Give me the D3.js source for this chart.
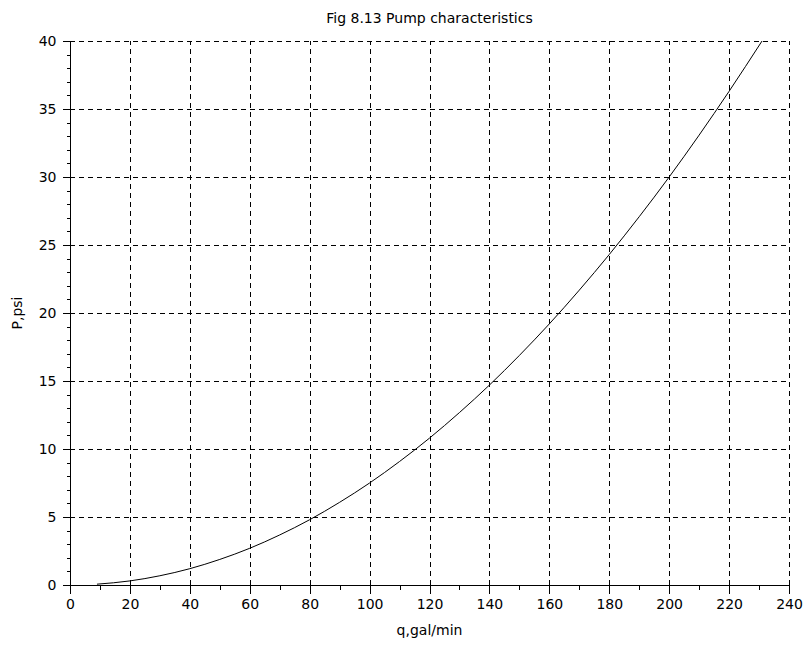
<!DOCTYPE html>
<html>
<head>
<meta charset="utf-8">
<script src="https://cdn.jsdelivr.net/npm/d3@7"></script>
<style>
  html, body { margin: 0; padding: 0; background: #fff; }
  svg { display: block; }
  text { font-family: "DejaVu Sans", sans-serif; fill: #000; }
</style>
</head>
<body>
<svg id="chart" width="809" height="645"></svg>
<script>
// Flow rate (gal/min) and pump pressure (psi)
const flow     = [9, 20, 30, 40, 50, 60, 70, 80, 90, 100, 110, 120, 130, 140, 150, 160, 170, 180, 190, 200, 210, 220, 231];
const pressure = [0.06, 0.3, 0.68, 1.2, 1.88, 2.7, 3.68, 4.8, 6.08, 7.5, 9.08, 10.8, 12.68, 14.7, 16.88, 19.2, 21.68, 24.3, 27.08, 30, 33.08, 36.3, 40.0];

const xTicks = [0, 20, 40, 60, 80, 100, 120, 140, 160, 180, 200, 220, 240];
const yTicks = [0, 5, 10, 15, 20, 25, 30, 35, 40];
const xMinor = [10, 30, 50, 70, 90, 110, 130, 150, 170, 190, 210, 230];
const yMinor = d3.range(0, 41).filter(v => v % 5 !== 0);

const titleText = "Fig 8.13 Pump characteristics";
const xLabel = "q,gal/min";
const yLabel = "P,psi";

const svg = d3.select("#chart");
const plotLeft = 70, plotRight = 789, plotTop = 41, plotBottom = 585;

const x = d3.scaleLinear().domain([0, 240]).range([plotLeft, plotRight]);
const y = d3.scaleLinear().domain([0, 40]).range([plotBottom, plotTop]);

// dashed grid
const grid = svg.append("g").attr("stroke", "#000").attr("stroke-width", 1)
  .attr("stroke-dasharray", "5,4").attr("shape-rendering", "crispEdges");
grid.selectAll("line.v").data(xTicks.slice(1)).join("line")
  .attr("x1", d => Math.round(x(d)) + 0.5).attr("x2", d => Math.round(x(d)) + 0.5)
  .attr("y1", plotBottom).attr("y2", plotTop);
grid.selectAll("line.h").data(yTicks.slice(1)).join("line")
  .attr("y1", d => Math.round(y(d)) + 0.5).attr("y2", d => Math.round(y(d)) + 0.5)
  .attr("x1", plotLeft).attr("x2", plotRight);

// axes
const xAxis = d3.axisBottom(x).tickValues(xTicks).tickSize(8).tickPadding(6).tickFormat(d3.format("d"));
const yAxis = d3.axisLeft(y).tickValues(yTicks).tickSize(8).tickPadding(6).tickFormat(d3.format("d"));

const gx = svg.append("g").attr("transform", `translate(0,${plotBottom + 0.5})`).call(xAxis);
const gy = svg.append("g").attr("transform", `translate(${plotLeft + 0.5},0)`).call(yAxis);
[gx, gy].forEach(g => {
  g.select(".domain").remove();
  g.selectAll("text").style("font-family", "DejaVu Sans, sans-serif").style("font-size", "14px");
  g.selectAll("line").attr("stroke", "#000").attr("shape-rendering", "crispEdges");
});
gx.append("line").attr("x1", plotLeft).attr("x2", plotRight + 1).attr("stroke", "#000").attr("shape-rendering", "crispEdges");
gy.append("line").attr("y1", plotTop).attr("y2", plotBottom + 1).attr("stroke", "#000").attr("shape-rendering", "crispEdges");

// minor ticks
gx.selectAll("line.minor").data(xMinor).join("line").attr("class", "minor")
  .attr("x1", d => Math.round(x(d)) + 0.5).attr("x2", d => Math.round(x(d)) + 0.5)
  .attr("y1", 0).attr("y2", 4).attr("stroke", "#000").attr("shape-rendering", "crispEdges");
gy.selectAll("line.minor").data(yMinor).join("line").attr("class", "minor")
  .attr("y1", d => Math.round(y(d)) + 0.5).attr("y2", d => Math.round(y(d)) + 0.5)
  .attr("x1", 0).attr("x2", -4).attr("stroke", "#000").attr("shape-rendering", "crispEdges");

// pump characteristic curve
const pts = flow.map((q, i) => [q, pressure[i]]);
svg.append("path").datum(pts)
  .attr("fill", "none").attr("stroke", "#000").attr("stroke-width", 1)
  .attr("d", d3.line().x(d => x(d[0])).y(d => y(d[1])).curve(d3.curveMonotoneX));

// labels
svg.append("text").attr("x", (plotLeft + plotRight) / 2).attr("y", 23)
  .attr("text-anchor", "middle").style("font-size", "14px").text(titleText);
svg.append("text").attr("x", (plotLeft + plotRight) / 2).attr("y", 635)
  .attr("text-anchor", "middle").style("font-size", "14px").text(xLabel);
svg.append("text").attr("transform", `translate(22,${(plotTop + plotBottom) / 2}) rotate(-90)`)
  .attr("text-anchor", "middle").style("font-size", "14px").text(yLabel);
</script>
</body>
</html>
